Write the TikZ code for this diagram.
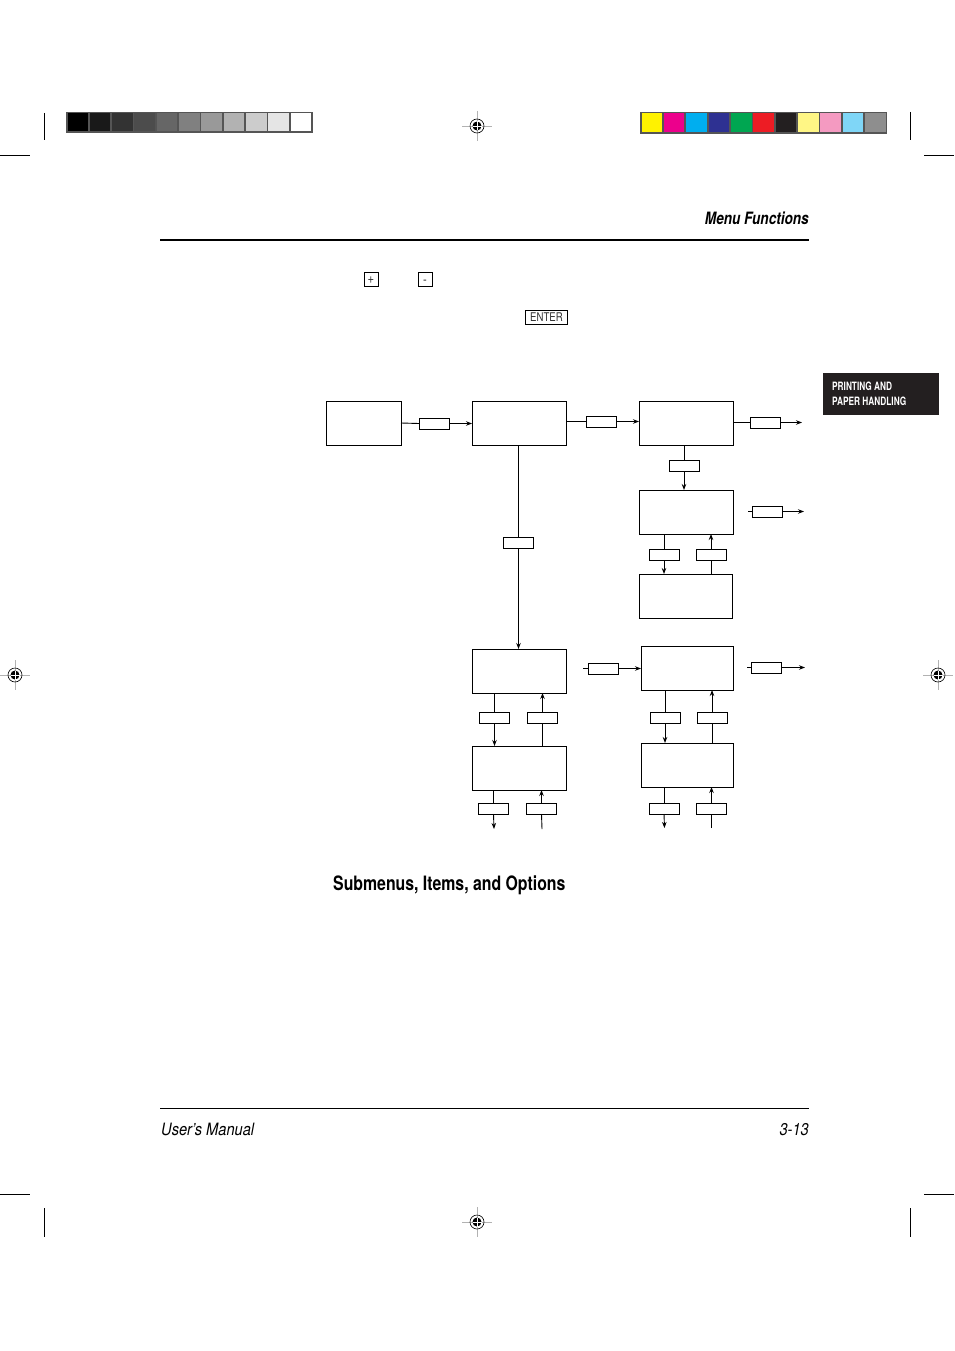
\documentclass[tikz,border=0pt]{standalone}
\usepackage{fontspec}
\setmainfont{TeX Gyre Heros}
\newfontfamily\cond[FakeStretch=0.8]{TeX Gyre Heros}
\newfontfamily\condn[FakeStretch=0.72]{TeX Gyre Heros}
\newfontfamily\condw[FakeStretch=0.86]{TeX Gyre Heros}
\usetikzlibrary{arrows.meta}
\definecolor{cY}{HTML}{FFF200}
\definecolor{cM}{HTML}{EC008C}
\definecolor{cC}{HTML}{00AEEF}
\definecolor{cN}{HTML}{2E3192}
\definecolor{cG}{HTML}{00A651}
\definecolor{cR}{HTML}{ED1C24}
\definecolor{cK}{HTML}{231F20}
\definecolor{cLY}{HTML}{FFF685}
\definecolor{cP}{HTML}{F49AC1}
\definecolor{cLB}{HTML}{7FD6F7}
\definecolor{cGr}{HTML}{8E8E8E}
\definecolor{barframe}{HTML}{555555}
\definecolor{tabbg}{HTML}{231F20}
\tikzset{
  big/.style={draw, line width=0.9pt, minimum width=94pt, minimum height=44pt, inner sep=0pt, outer sep=0pt},
  lab/.style={draw, line width=0.9pt, minimum width=30pt, minimum height=11pt, inner sep=0pt, outer sep=0pt},
  key/.style={draw, line width=0.7pt, inner sep=1pt, font=\cond\fontsize{12}{12}\selectfont, text=black!80},
  smallkey/.style={key, minimum width=14pt, minimum height=14pt, inner sep=0pt, text height=10pt, text depth=1pt, font=\cond\fontsize{14}{14}\selectfont},
  con/.style={line width=0.9pt},
  arr/.style={line width=0.9pt, -{Stealth[length=6pt,width=4.5pt]}},
  crop/.style={line width=0.8pt},
  reg/.pic={
    \draw[black!30, line width=0.8pt] (-15,0)--(15,0) (0,-15)--(0,15);
    \draw[line width=0.6pt] (0,0) circle (7);
    \fill (0,0) circle (4.5);
    \draw[white, line width=0.8pt] (-4.5,0)--(4.5,0) (0,-4.5)--(0,4.5);
  }
}
\begin{document}
\begin{tikzpicture}[x=1pt,y=-1pt]
\useasboundingbox[fill=white] (0,0) rectangle (954,1351);
% gray bar
\fill[barframe] (66,112) rectangle (313,133);
\foreach \i in {0,...,10}{
  \pgfmathsetmacro\g{100-\i*10}
  \fill[black!\g] ({67.5+\i*22.3},113.5) rectangle ({67.5+\i*22.3+20.6},131.5);
}
% colour bar
\fill[barframe] (640,112) rectangle (887,134);
\foreach \c [count=\i from 0] in {cY,cM,cC,cN,cG,cR,cK,cLY,cP,cLB,cGr}{
  \fill[\c] ({641.5+\i*22.35},113.5) rectangle ({641.5+\i*22.35+20.6},132.5);
}
% crop marks
\draw[crop] (44,113)--(44,140) (0,155)--(30,155);
\draw[crop] (910,112)--(910,140) (924,155)--(954,155);
\draw[crop] (44,1208)--(44,1237) (0,1194)--(30,1194);
\draw[crop] (910,1208)--(910,1237) (924,1194)--(954,1194);
% registration marks
\pic at (477,126) {reg};
\pic at (15,675) {reg};
\pic at (938,675) {reg};
\pic at (477,1222) {reg};
% header
\node[anchor=base east, inner sep=0pt, font=\cond\bfseries\itshape\fontsize{17}{17}\selectfont] (hdr) at (809,224) {Menu Functions};
\draw[line width=2.8pt] (160,240)--(809,240);
% keys
\node[smallkey] (kplus) at (371,279) {+};
\node[smallkey] (kminus) at (425,279.5) {-};
\node[key, minimum width=42pt, minimum height=14pt] (kenter) at (546.5,317) {ENTER};
% tab
\fill[tabbg] (823,373) rectangle (939,415);
\node[anchor=base west, inner sep=0pt, text=white, font=\condn\bfseries\fontsize{11.5}{11.5}\selectfont] (tab1) at (832,390) {PRINTING AND};
\node[anchor=base west, inner sep=0pt, text=white, font=\condn\bfseries\fontsize{11.5}{11.5}\selectfont] (tab2) at (832,405) {PAPER HANDLING};
% main boxes
\node[big, minimum width=75pt] (A) at (363.5,423) {};
\node[big] (B) at (519,423) {};
\node[big] (C) at (686,423) {};
\node[big] (D) at (686,512) {};
\node[big, minimum width=93pt] (E) at (685.5,596) {};
\node[big] (F) at (519,671) {};
\node[big] (G) at (519,768) {};
\node[big, minimum width=92pt] (H) at (687,668) {};
\node[big, minimum width=92pt] (I) at (687,765) {};
% row 1
\node[lab] (ab) at (434,423.5) {};
\draw[con] (A.east) -- (ab.west);
\draw[arr] (ab.east) -- (B.west |- ab.east);
\node[lab] (bc) at (601,421.5) {};
\draw[con] (B.east |- bc.west) -- (bc.west);
\draw[arr] (bc.east) -- (C.west |- bc.east);
\node[lab] (cr) at (765,422.5) {};
\coordinate (crEnd) at (802,422.5);
\draw[con] (C.east |- cr.west) -- (cr.west);
\draw[arr] (cr.east) -- (crEnd);
% C to D
\node[lab] (cd) at (684,465.5) {};
\draw[con] (C.south -| cd.north) -- (cd.north);
\draw[arr] (cd.south) -- (D.north -| cd.south);
% right of D
\node[lab] (dr) at (767,511.5) {};
\coordinate (drStart) at (748,511.5);
\coordinate (drEnd) at (804,511.5);
\draw[con] (drStart) -- (dr.west);
\draw[arr] (dr.east) -- (drEnd);
% D <-> E
\node[lab] (de1) at (664,554.5) {};
\node[lab] (de2) at (711,554.5) {};
\draw[con] (D.south -| de1.north) -- (de1.north);
\draw[arr] (de1.south) -- (E.north -| de1.south);
\draw[con] (E.north -| de2.south) -- (de2.south);
\draw[arr] (de2.north) -- (D.south -| de2.north);
% B to F
\node[lab] (bf) at (518.5,542.5) {};
\draw[con] (B.south -| bf.north) -- (bf.north);
\draw[arr] (bf.south) -- (F.north -| bf.south);
% F <-> G
\node[lab] (fg1) at (494.5,717.5) {};
\node[lab] (fg2) at (542.5,717.5) {};
\draw[con] (F.south -| fg1.north) -- (fg1.north);
\draw[arr] (fg1.south) -- (G.north -| fg1.south);
\draw[con] (G.north -| fg2.south) -- (fg2.south);
\draw[arr] (fg2.north) -- (F.south -| fg2.north);
% below G
\node[lab] (g1) at (493.5,808.5) {};
\node[lab] (g2) at (541.5,808.5) {};
\coordinate (g1End) at (494,829);
\coordinate (g2Start) at (542,829);
\draw[con] (G.south -| g1.north) -- (g1.north);
\draw[arr] (g1.south) -- (g1End);
\draw[con] (g2Start) -- (g2.south);
\draw[arr] (g2.north) -- (G.south -| g2.north);
% left of H
\node[lab] (hl) at (603,668.5) {};
\coordinate (hlStart) at (583,668.5);
\draw[con] (hlStart) -- (hl.west);
\draw[arr] (hl.east) -- (H.west |- hl.east);
% right of H
\node[lab] (hr) at (766,667.5) {};
\coordinate (hrStart) at (747,667.5);
\coordinate (hrEnd) at (805,667.5);
\draw[con] (hrStart) -- (hr.west);
\draw[arr] (hr.east) -- (hrEnd);
% H <-> I
\node[lab] (hi1) at (665,717.5) {};
\node[lab] (hi2) at (712,717.5) {};
\draw[con] (H.south -| hi1.north) -- (hi1.north);
\draw[arr] (hi1.south) -- (I.north -| hi1.south);
\draw[con] (I.north -| hi2.south) -- (hi2.south);
\draw[arr] (hi2.north) -- (H.south -| hi2.north);
% below I
\node[lab] (i1) at (664,808.5) {};
\node[lab] (i2) at (711.5,808.5) {};
\coordinate (i1End) at (664.5,828);
\coordinate (i2Start) at (711.5,828);
\draw[con] (I.south -| i1.north) -- (i1.north);
\draw[arr] (i1.south) -- (i1End);
\draw[con] (i2Start) -- (i2.south);
\draw[arr] (i2.north) -- (I.south -| i2.north);
% caption
\node[anchor=base west, inner sep=0pt, font=\cond\bfseries\fontsize{19.8}{19.8}\selectfont] (cap) at (333,890) {Submenus, Items, and Options};
% footer
\draw[line width=0.9pt] (160,1108)--(809,1108);
\node[anchor=base west, inner sep=0pt, font=\condw\itshape\fontsize{17}{17}\selectfont] (foot1) at (161,1135) {User’s Manual};
\node[anchor=base east, inner sep=0pt, font=\condw\itshape\fontsize{17}{17}\selectfont] (foot2) at (809,1135) {3-13};
\end{tikzpicture}
\end{document}
